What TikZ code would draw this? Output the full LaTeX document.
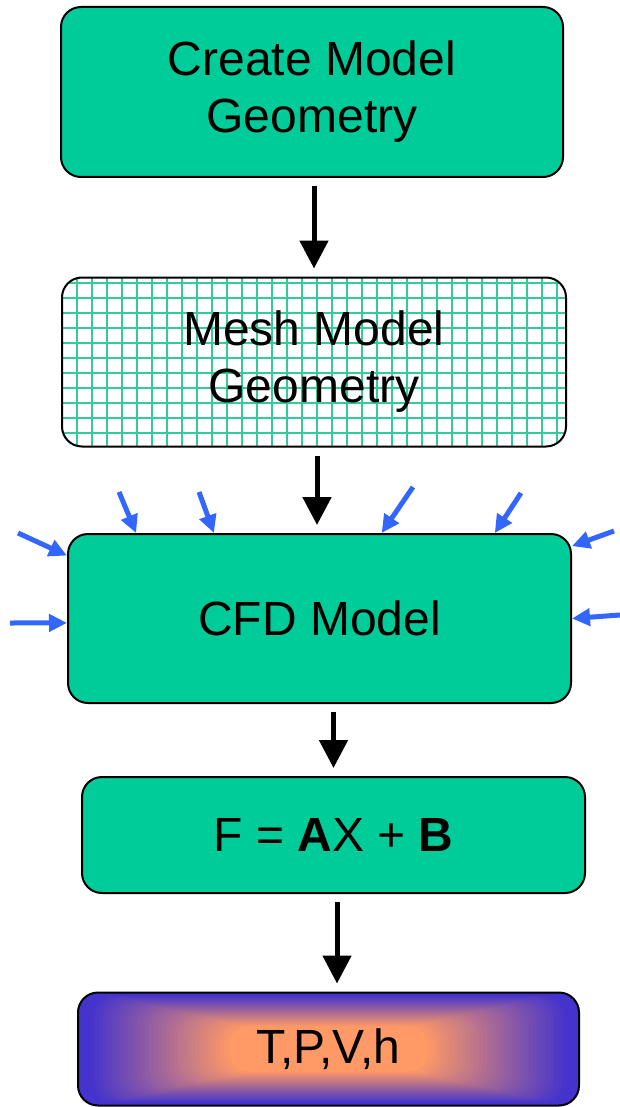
\documentclass[tikz,border=0pt]{standalone}
\usepackage{fontspec}
\setmainfont{Liberation Sans}
\usetikzlibrary{arrows.meta,calc}
\definecolor{cfdgreen}{HTML}{00CC99}
\definecolor{meshgreen}{HTML}{33CC99}
\definecolor{bcblue}{HTML}{3366FF}
\definecolor{tpvblue}{HTML}{4433CC}
\definecolor{tpvorange}{HTML}{FF9966}

\begin{document}
\begin{tikzpicture}[x=0.5pt,y=-0.5pt,
  stage/.style={draw,line width=1pt,rounded corners=10pt,fill=cfdgreen,align=center,inner sep=0pt,font=\fontsize{24}{28.5}\selectfont},
  flow/.style={-{Triangle[width=14pt,length=14pt]},line width=2.5pt,shorten <=4pt,shorten >=4pt},
  bc/.style={-{Triangle[width=8.5pt,length=9pt]},line width=2.5pt,bcblue}]
          \useasboundingbox (0,0) rectangle (620,1107);
          \node[stage,minimum width=251pt,minimum height=85pt] (geom) at (312,92) {Create Model\\Geometry};
          \node[stage,fill=white,minimum width=252pt,minimum height=84.5pt,
            path picture={
              \foreach \k in {1,...,33}
                \draw[meshgreen,line width=1pt] ([xshift=\k*7.5pt]path picture bounding box.north west) -- ([xshift=\k*7.5pt]path picture bounding box.south west);
              \foreach \k in {0,...,10}
                \draw[meshgreen,line width=1pt] ([yshift=-2.5pt-\k*7.5pt]path picture bounding box.north west) -- ([yshift=-2.5pt-\k*7.5pt]path picture bounding box.north east);
            }] (mesh) at (314,362) {Mesh Model\\Geometry};
          \node[stage,minimum width=251.5pt,minimum height=84.5pt] (cfd) at (319.5,618.5) {CFD Model};
          \node[stage,minimum width=251.5pt,minimum height=58pt] (fab) at (333.5,835) {F = \textbf{A}X + \textbf{B}};
          \node[stage,fill=tpvblue,minimum width=250.5pt,minimum height=56.5pt,
            path picture={
              \foreach \i in {1,...,59} {
                \pgfmathsetmacro\tmix{min(100,max(0,(\i/60-0.04)/0.56*100))}
                \fill[tpvorange!\tmix!tpvblue] ($(path picture bounding box.south west)!\i/120!(path picture bounding box.north east)$) rectangle ($(path picture bounding box.north east)!\i/120!(path picture bounding box.south west)$);
              }
            }] (tpv) at (328.5,1049) {T,P,V,h};
          \draw[flow] (geom.south -| mesh.north) -- (mesh.north);
          \draw[flow] ([xshift=1.5pt]mesh.south) -- ([xshift=1.5pt]mesh.south |- cfd.north);
          \draw[flow] (cfd.south -| fab.north) -- (fab.north);
          \draw[flow] ([xshift=1.75pt]fab.south) -- ([xshift=1.75pt]fab.south |- tpv.north);
          \coordinate (b1) at (119,492);
          \coordinate (b2) at (199,492);
          \coordinate (b3) at (413,487);
          \coordinate (b4) at (521,493);
          \coordinate (b5) at (614,531);
          \coordinate (b6) at (18,533);
          \coordinate (b7) at (10,623);
          \coordinate (b8) at (620,615);
          \draw[bc] (b1) -- (cfd.155);
          \draw[bc] (b2) -- (cfd.141);
          \draw[bc] (b3) -- (cfd.54.5);
          \draw[bc] (b4) -- (cfd.26);
          \draw[bc] (b5) -- (cfd.16);
          \draw[bc] (b6) -- (cfd.166);
          \draw[bc] (b7) -- (cfd.181);
          \draw[bc] (b8) -- (cfd.0);
        \end{tikzpicture}
\end{document}
